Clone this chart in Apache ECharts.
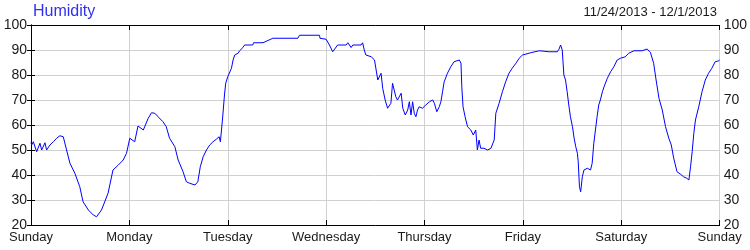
<!DOCTYPE html>
<html><head><meta charset="utf-8">
<script src="https://cdn.jsdelivr.net/npm/echarts@6/dist/echarts.min.js"></script>
<style>html,body{margin:0;padding:0;background:#fff}#c{width:750px;height:250px}</style>
</head><body><div id="c"></div>
<script>
const titleText = 'Humidity';
const dateRange = '11/24/2013 - 12/1/2013';
const dayLabels = ['Sunday','Monday','Tuesday','Wednesday','Thursday','Friday','Saturday','Sunday'];
const yTicks = [20,30,40,50,60,70,80,90,100];
const hours = [0,0.16,0.57,1.38,2.19,2.6,3.41,3.81,4.63,5.44,6.25,7.06,7.87,8.28,8.68,9.5,10.7,11.9,12.7,14.0,15.2,16.0,17.2,18.8,20.0,21.3,22.5,23.3,24.1,25.3,26.1,27.4,28.6,29.4,30.2,31.0,32.2,33.0,33.8,35.1,35.9,37.1,37.9,38.7,40.0,40.7,41.3,42.0,42.8,43.6,44.4,45.2,45.9,46.2,46.7,47.2,47.5,48.0,48.9,49.3,49.7,50.5,50.9,51.7,52.1,54.1,54.3,56.6,56.7,59.0,65.1,65.5,70.4,70.5,72.0,72.8,73.6,74.0,74.8,76.9,77.3,78.1,78.5,80.5,80.9,81.3,81.7,83.0,83.8,84.2,84.6,85.0,85.4,85.8,86.4,87.0,87.8,88.2,89.0,89.4,90.3,90.7,91.3,91.9,92.3,92.7,93.1,93.5,93.9,94.3,94.7,95.5,96.3,97.2,98.0,98.4,99.0,99.6,100.0,100.4,100.8,101.6,102.4,103.2,104.5,104.9,105.1,105.4,105.9,106.5,107.3,107.9,108.5,108.9,109.3,109.7,110.5,111.4,112.2,113.0,113.4,114.2,115.0,115.8,116.6,117.4,118.3,119.1,119.9,121.9,124.0,126.4,128.4,128.8,129.2,129.6,130.0,130.4,130.8,131.2,131.6,132.1,132.5,132.9,133.3,133.5,133.8,134.1,134.5,134.9,135.3,135.7,136.5,136.9,137.3,137.7,138.1,138.5,138.9,139.4,139.8,140.6,141.4,142.2,143.0,143.8,145.0,145.8,147.1,149.1,149.5,150.3,151.1,151.9,152.5,153.2,154.0,154.8,155.6,156.2,156.8,157.6,158.4,159.2,160.0,160.5,160.9,161.3,161.7,162.1,162.9,163.7,164.5,165.3,166.1,166.9,167.8,168];
const humidity = [53,52,53.3,49.3,52.7,50,52.9,50,52,53.3,54.7,55.7,55.3,56,50,44.7,40.7,35.3,29.3,26,24,23.3,26,32.7,42,44,46,48.7,54.7,53.3,59.6,58,62.7,64.9,64.7,63.3,61.3,59.3,54.7,51.3,46,41.3,37.3,36.7,36,37.3,43.3,47.3,50,52,53.3,54.3,55.3,53.3,62,72,76.7,79.3,82.7,86,88,88.7,89.7,91,92,92,92.9,92.9,93.7,94.7,94.7,95.9,95.9,94.7,94.3,92,89.3,89.7,92,92,92.9,91,92,92,92.9,90,88,87.3,86,82,78,77.3,80.7,74.7,70,66.7,68.7,76.7,71.3,70,72.7,66.7,64,66,69.3,64,69.3,64.7,63.3,66,67.3,66.7,68,69.3,70,68.7,65.3,67.3,69.3,73.3,77.3,80.7,83.3,85.3,86,84.7,75.3,67.3,63.3,59.3,58,56,58,50,54,50.7,50.7,50,50.7,54,64.7,68.7,73.3,77.3,80.7,82.7,84.7,86.7,88,88.9,89.7,89.3,89.3,90.3,92,90,80,78,73.3,68,63.3,59.3,54.7,51.3,48.7,45.3,35.3,33.3,39.3,42,41.3,42.7,42,44.7,52.7,58,63.3,68,70,73.3,75.3,78.7,81.3,83.3,86,86.7,87.3,88.7,89.7,89.7,89.1,90.4,89.1,84.7,78,70.7,66,59.3,54.7,52,46.7,41.3,40.4,39.3,38.7,38,43.3,49.3,56.7,62,67.3,73.3,78,80.7,82.7,85.3,85.7,86];

const FONT = 'Liberation Sans';
const chart = echarts.init(document.getElementById('c'), null, {renderer:'canvas'});
const yAxisBase = (pos) => ({
  type:'value', position:pos, min:yTicks[0], max:yTicks[yTicks.length-1], interval:10,
  axisLine:{show:true, lineStyle:{color:'#000', width:1}},
  axisTick:{show:true, inside:false, length:4, lineStyle:{color:'#000'}},
  axisLabel:{show:true, margin:4, color:'#1a1a1a', fontFamily:FONT, fontSize:14},
  splitLine:{show:pos==='left', lineStyle:{color:'#d0d0d0', width:1}}
});
chart.setOption({
  animation:false,
  backgroundColor:'#fff',
  title:[
    {text:titleText, left:33, top:4, padding:0, textStyle:{color:'#3030f0', fontFamily:FONT, fontSize:16, fontWeight:'normal'}},
    {text:dateRange, right:33, top:6, padding:0, textStyle:{color:'#1a1a1a', fontFamily:FONT, fontSize:13, fontWeight:'normal'}}
  ],
  grid:{left:31, right:29, top:25, bottom:25, containLabel:false},
  xAxis:[
    {type:'value', position:'bottom', min:0, max:168, interval:24,
     axisLine:{show:true, lineStyle:{color:'#000', width:1}},
     axisTick:{show:true, inside:true, length:5, lineStyle:{color:'#000'}},
     axisLabel:{show:true, margin:6, color:'#1a1a1a', fontFamily:FONT, fontSize:13,
       formatter:(v)=>dayLabels[Math.round(v/24)]},
     splitLine:{show:true, lineStyle:{color:'#d0d0d0', width:1}}},
    {type:'value', position:'top', min:0, max:168, interval:24,
     axisLine:{show:true, lineStyle:{color:'#000', width:1}},
     axisTick:{show:true, inside:true, length:5, lineStyle:{color:'#000'}},
     axisLabel:{show:false}, splitLine:{show:false}}
  ],
  yAxis:[yAxisBase('left'), yAxisBase('right')],
  series:[{
    type:'line', xAxisIndex:0, yAxisIndex:0, showSymbol:false, symbol:'none',
    lineStyle:{color:'#0000ff', width:1},
    data: hours.map((h,i)=>[h, humidity[i]])
  }]
});
</script></body></html>
